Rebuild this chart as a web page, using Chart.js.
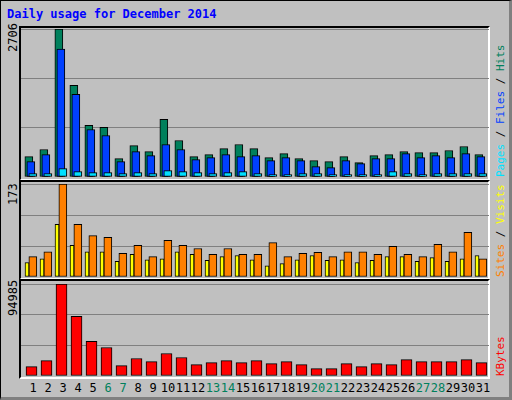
<!DOCTYPE html>
<html><head><meta charset="utf-8">
<script src="https://cdn.jsdelivr.net/npm/chart.js@4"></script>
<style>
html,body{margin:0;padding:0;}
body{width:512px;height:400px;background:#C0C0C0;position:relative;overflow:hidden;font-family:"DejaVu Sans Mono",monospace;}
#frame{position:absolute;left:0;top:0;width:508px;height:396px;border-left:1px solid #000;border-top:1px solid #000;border-right:3px solid #808080;border-bottom:3px solid #808080;box-sizing:content-box;}
.panel{position:absolute;left:19px;width:471px;border-top:2px solid #000;border-left:2px solid #000;border-right:2px solid #fff;border-bottom:2px solid #fff;box-sizing:border-box;}
canvas{position:absolute;}
.rot{position:absolute;transform:rotate(-90deg);transform-origin:left top;white-space:nowrap;font-size:12px;}
.rr{font-size:11px;}
#title{position:absolute;left:7px;top:7px;color:#0000FF;font-weight:bold;font-size:12px;}
.xl{position:absolute;top:381px;font-size:12px;width:20px;text-align:center;}
</style></head><body>
<div id="frame"></div>
<div id="title">Daily usage for December 2014</div>
<div class="panel" style="top:26px;height:155px"></div>
<div class="panel" style="top:180px;height:100px"></div>
<div class="panel" style="top:279px;height:100px"></div>
<canvas id="c1" style="left:21px;top:29px;width:468px;height:148px"></canvas>
<canvas id="c2" style="left:21px;top:184px;width:468px;height:93px"></canvas>
<canvas id="c3" style="left:21px;top:284px;width:468px;height:92px"></canvas>
<div class="rot" style="left:6px;top:52px">2706</div>
<div class="rot" style="left:6px;top:205px">173</div>
<div class="rot" style="left:6px;top:316px">94985</div>
<div class="rot rr" style="left:494px;top:177px"><span style="color:#00E0FF">Pages</span> / <span style="color:#0040FF">Files</span> / <span style="color:#00805C">Hits</span></div>
<div class="rot rr" style="left:494px;top:277px"><span style="color:#FF8000">Sites</span> / <span style="color:#FFFF00">Visits</span></div>
<div class="rot rr" style="left:494px;top:376px"><span style="color:#FF0000">KBytes</span></div>
<div id="xlabels"></div>
<script>
const days = Array.from({length:31},(_,i)=>String(i+1));
const weekend = ["6","7","13","14","20","21","27","28"];
const hits = [373,502,2706,1677,943,906,337,575,465,1053,667,373,410,520,594,520,355,428,337,300,282,373,263,392,410,465,447,447,484,557,410];
const files = [282,410,2338,1512,869,759,282,465,392,594,502,318,355,410,373,392,300,355,300,190,171,300,245,337,337,428,355,392,355,428,373];
const pages = [61,61,153,98,80,80,61,80,61,116,98,80,61,80,98,61,43,43,61,61,43,43,43,43,98,61,43,61,61,61,61];
const visits = [38,47,173,98,77,74,44,59,38,68,59,53,42,53,42,42,64,38,44,46,38,47,47,42,57,42,38,61,47,83,34];
const sites = [27,34,98,59,47,47,29,42,32,34,47,42,31,38,40,32,21,25,32,40,31,32,27,31,38,38,29,36,29,34,40];
const kbytes = [9708,15948,94985,61713,35710,29470,10748,18028,14908,23229,19068,11788,13868,15948,13868,15948,12828,14908,11788,7627,7627,12828,9708,12828,11788,16988,14908,14908,14908,16988,13868];
const yMax = [2706,173,94985];

const XMIN = 1-12/15, XMAX = XMIN+468/15;
function pts(arr,off){return arr.map((v,i)=>({x:i+1+off,y:v}));}
function ds(arr,off,color,w){return {data:pts(arr,off),backgroundColor:color,borderColor:'#000',borderWidth:1,borderSkipped:false,barThickness:w,grouped:false,categoryPercentage:1,barPercentage:1};}
function mk(id,max,datasets){
  new Chart(document.getElementById(id),{type:'bar',data:{datasets},
    options:{responsive:false,animation:false,events:[],maintainAspectRatio:false,
      layout:{padding:0},
      plugins:{legend:{display:false},tooltip:{enabled:false}},
      scales:{
        x:{type:'linear',min:XMIN,max:XMAX,display:false,offset:false},
        y:{min:0,max:max,ticks:{display:false,stepSize:max/3},grid:{color:'#808080',lineWidth:1,drawTicks:false},border:{display:false}}
      }}});
}
mk('c1',yMax[0],[ds(pages,-0.01,'#00E0FF',8),ds(files,-0.143,'#0040FF',8),ds(hits,-0.277,'#00805C',8)]);
mk('c2',yMax[1],[ds(sites,-0.4,'#FFFF00',4),ds(visits,-0.01,'#FF8000',8)]);
mk('c3',yMax[2],[ds(kbytes,-0.1,'#FF0000',11)]);

const xl=document.getElementById('xlabels');
days.forEach((d,i)=>{const e=document.createElement('div');e.className='xl';e.textContent=d;
  e.style.left=(33+15*i-10)+'px';e.style.color=weekend.includes(d)?'#00805C':'#000';xl.appendChild(e);});
</script>
</body></html>
